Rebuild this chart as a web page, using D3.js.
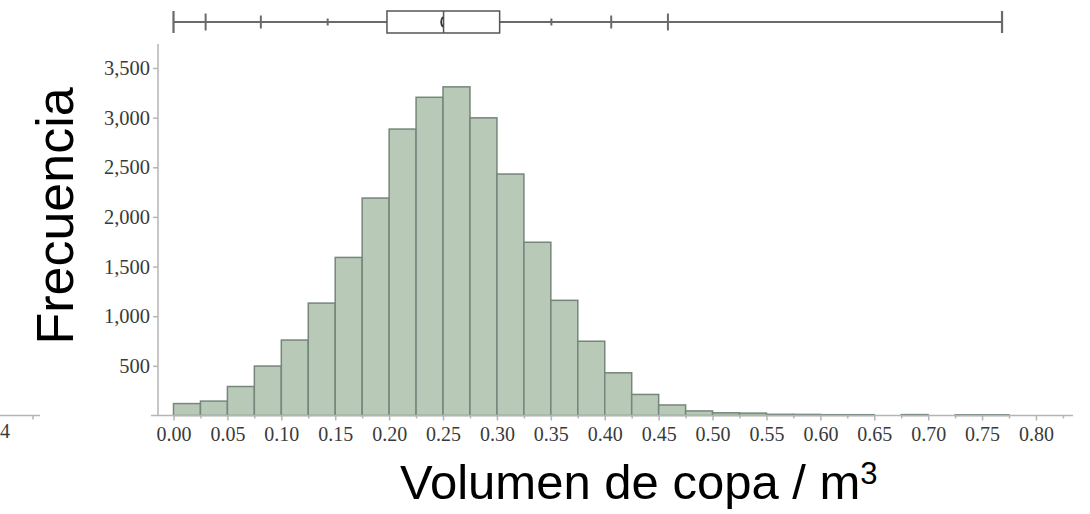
<!DOCTYPE html>
<html>
<head>
<meta charset="utf-8">
<script src="https://cdn.jsdelivr.net/npm/d3@7"></script>
<style>
  body { margin: 0; background: #fff; }
  svg { display: block; }
</style>
</head>
<body>
<script>
// histogram bins (lower edge, m3) and counts
var binStart = [0.000, 0.025, 0.050, 0.075, 0.100, 0.125, 0.150, 0.175, 0.200, 0.225,
                0.250, 0.275, 0.300, 0.325, 0.350, 0.375, 0.400, 0.425, 0.450, 0.475,
                0.500, 0.525, 0.550, 0.575, 0.600, 0.625, 0.650, 0.675, 0.700, 0.725, 0.750];
var counts   = [120, 145, 292, 498, 760, 1132, 1592, 2190, 2885, 3205,
                3310, 2998, 2432, 1745, 1160, 748, 430, 212, 106, 46,
                27, 24, 12, 11, 8, 8, 0, 9, 0, 7, 7];
var binWidth = 0.025;

// box plot on top: whisker ends, percentile marks, quartiles
var boxMin = 0.0, boxMax = 0.7685;
var boxQ1 = 0.198, boxMedian = 0.2505, boxQ3 = 0.3025, boxMean = 0.2485;
var pctMarks = [0.0298, 0.081, 0.143, 0.3505, 0.406, 0.4586];
var pctSize  = [17, 13, 7, 7, 13, 17];

// axis ticks
var xMajor = [0, 0.05, 0.10, 0.15, 0.20, 0.25, 0.30, 0.35, 0.40, 0.45, 0.50, 0.55, 0.60, 0.65, 0.70, 0.75, 0.80];
var xMinor = [0.025, 0.075, 0.125, 0.175, 0.225, 0.275, 0.325, 0.375, 0.425, 0.475, 0.525, 0.575, 0.625, 0.675, 0.725, 0.775, 0.825];
var yTicks = [500, 1000, 1500, 2000, 2500, 3000, 3500];

var W = 1090, H = 514;
var axisCol = "#b5b5b5";
var labelFont = "'Liberation Serif', 'Times New Roman', serif";
var titleFont = "'Liberation Sans', Arial, sans-serif";

var svg = d3.select("body").append("svg")
    .attr("width", W)
    .attr("height", H);

var x = d3.scaleLinear().domain([0, 0.8]).range([173.5, 1036]);
var y = d3.scaleLinear().domain([0, 3500]).range([415.5, 68]);

// bars (empty bins are skipped)
var bars = binStart.map(function(s, i) { return {s: s, c: counts[i]}; })
    .filter(function(b) { return b.c > 0; });

svg.append("g").selectAll("rect")
    .data(bars)
    .enter().append("rect")
    .attr("x", function(d) { return x(d.s); })
    .attr("y", function(d) { return y(d.c); })
    .attr("width", function(d) { return x(d.s + binWidth) - x(d.s); })
    .attr("height", function(d) { return y(0) - y(d.c); })
    .attr("fill", "#b8c9b8")
    .attr("stroke", "#75867a")
    .attr("stroke-width", 1.5);

// y axis
svg.append("line")
    .attr("x1", 158).attr("x2", 158)
    .attr("y1", 44).attr("y2", y(0))
    .attr("stroke", axisCol).attr("stroke-width", 1.5);

var yAx = svg.append("g")
    .attr("transform", "translate(158,0)")
    .call(d3.axisLeft(y).tickValues(yTicks).tickSize(5).tickPadding(3).tickFormat(d3.format(",")));
yAx.select(".domain").remove();
yAx.selectAll("line").attr("stroke", axisCol).attr("stroke-width", 1.5);
yAx.selectAll("text")
    .attr("fill", "#3a3a3a")
    .style("font-family", labelFont)
    .style("font-size", "20.5px");

// x axis
svg.append("line")
    .attr("x1", 151).attr("x2", 1073)
    .attr("y1", y(0)).attr("y2", y(0))
    .attr("stroke", axisCol).attr("stroke-width", 1.5);

var xAx = svg.append("g")
    .attr("transform", "translate(0," + y(0) + ")")
    .call(d3.axisBottom(x).tickValues(xMajor).tickSize(5).tickPadding(6).tickFormat(d3.format(".2f")));
xAx.select(".domain").remove();
xAx.selectAll("line").attr("stroke", axisCol).attr("stroke-width", 1.5);
xAx.selectAll("text")
    .attr("fill", "#3a3a3a")
    .style("font-family", labelFont)
    .style("font-size", "20px");

var xMin = svg.append("g")
    .attr("transform", "translate(0," + y(0) + ")")
    .call(d3.axisBottom(x).tickValues(xMinor).tickSize(3).tickFormat(""));
xMin.select(".domain").remove();
xMin.selectAll("line").attr("stroke", axisCol).attr("stroke-width", 1.5);

// leftover piece of a neighbouring axis at the bottom left
svg.append("line")
    .attr("x1", 0).attr("x2", 40).attr("y1", y(0)).attr("y2", y(0))
    .attr("stroke", axisCol).attr("stroke-width", 1.5);
svg.append("line")
    .attr("x1", 33).attr("x2", 33).attr("y1", y(0)).attr("y2", y(0) + 4)
    .attr("stroke", axisCol).attr("stroke-width", 1.5);
svg.append("text")
    .attr("x", 0).attr("y", 438)
    .attr("fill", "#3a3a3a")
    .style("font-family", labelFont)
    .style("font-size", "20px")
    .text("4");

// box plot
var bY = 22, boxCol = "#555";
var bp = svg.append("g");
bp.append("line")
    .attr("x1", x(boxMin)).attr("x2", x(boxMax))
    .attr("y1", bY).attr("y2", bY)
    .attr("stroke", "#6a6a6a").attr("stroke-width", 2.2);
[boxMin, boxMax].forEach(function(v) {
  bp.append("line")
    .attr("x1", x(v)).attr("x2", x(v))
    .attr("y1", bY - 11).attr("y2", bY + 11)
    .attr("stroke", "#6a6a6a").attr("stroke-width", 2.2);
});
pctMarks.forEach(function(v, i) {
  bp.append("line")
    .attr("x1", x(v)).attr("x2", x(v))
    .attr("y1", bY - pctSize[i] / 2).attr("y2", bY + pctSize[i] / 2)
    .attr("stroke", "#6a6a6a").attr("stroke-width", 2);
});
bp.append("rect")
    .attr("x", x(boxQ1)).attr("y", bY - 11)
    .attr("width", x(boxQ3) - x(boxQ1)).attr("height", 22)
    .attr("fill", "#fff")
    .attr("stroke", boxCol).attr("stroke-width", 1.5);
bp.append("line")
    .attr("x1", x(boxMedian)).attr("x2", x(boxMedian))
    .attr("y1", bY - 11).attr("y2", bY + 11)
    .attr("stroke", boxCol).attr("stroke-width", 1.5);
// small mean mark
var mx = x(boxMean);
bp.append("path")
    .attr("d", "M" + (mx + 1.5) + "," + (bY - 5) + " Q" + (mx - 2) + "," + bY + " " + (mx + 1.5) + "," + (bY + 5))
    .attr("fill", "none")
    .attr("stroke", "#333").attr("stroke-width", 1.8);

// titles
svg.append("text")
    .attr("transform", "translate(73,216) rotate(-90)")
    .attr("text-anchor", "middle")
    .attr("fill", "#000")
    .style("font-family", titleFont)
    .style("font-size", "52px")
    .text("Frecuencia");

var xt = svg.append("text")
    .attr("x", 400).attr("y", 499)
    .attr("fill", "#000")
    .style("font-family", titleFont)
    .style("font-size", "49px");
xt.append("tspan").text("Volumen de copa / m");
xt.append("tspan").attr("dy", -15).style("font-size", "31px").text("3");
</script>
</body>
</html>
